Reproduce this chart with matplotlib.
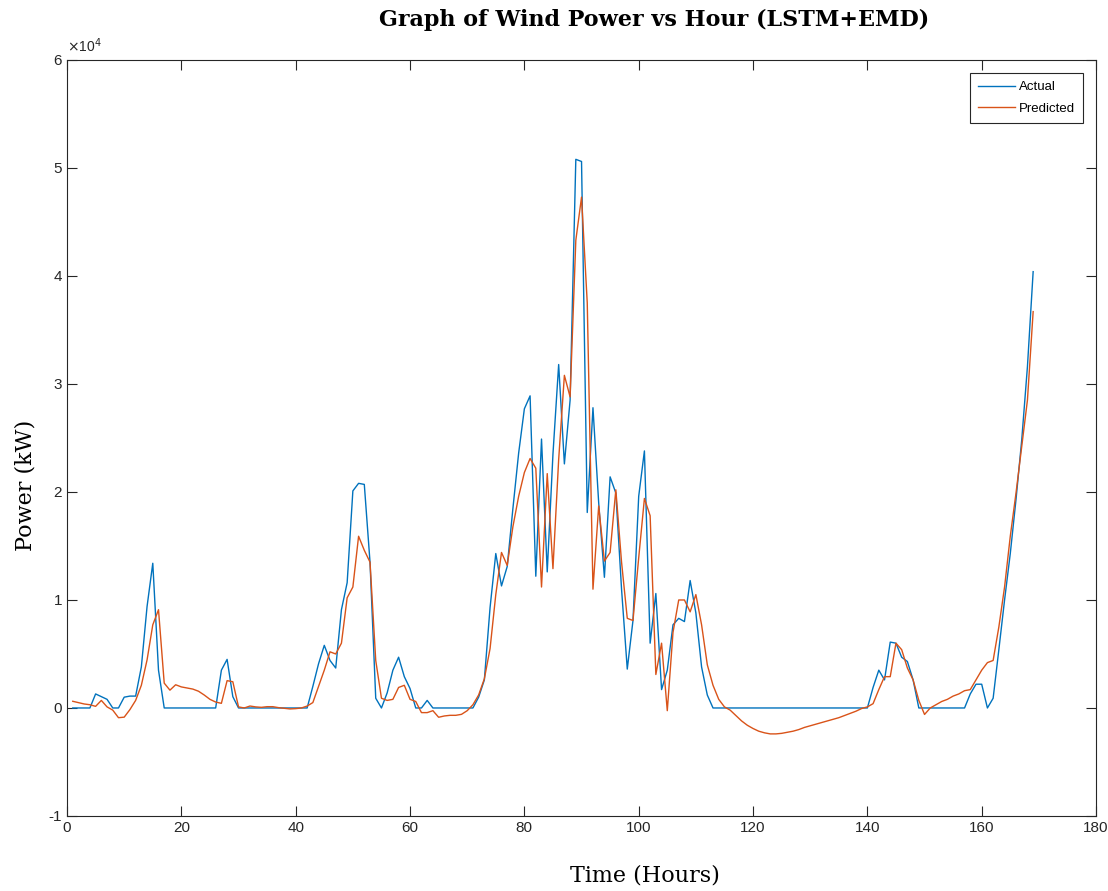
import numpy as np
import matplotlib
matplotlib.use("Agg")
import matplotlib.pyplot as plt
from matplotlib.ticker import FuncFormatter

plt.rcParams["axes.unicode_minus"] = False

#### DATEN ####
# Stunden 1..169
stunden = np.arange(1, 170)

# Gemessene Leistung (kW)
actual = [
    0, 0, 0, 0, 1300, 1050, 800, 0, 0, 1000,
    1100, 1100, 3800, 9400, 13400, 3500, 0, 0, 0, 0,
    0, 0, 0, 0, 0, 0, 3500, 4500, 1050, 0,
    0, 0, 0, 0, 0, 0, 0, 0, 0, 0,
    0, 0, 2000, 4100, 5800, 4400, 3700, 9100, 11600, 20100,
    20800, 20700, 13500, 900, 0, 1400, 3500, 4700, 2900, 1800,
    0, 0, 700, 0, 0, 0, 0, 0, 0, 0,
    0, 1000, 2600, 9300, 14300, 11300, 13100, 18500, 23600, 27700,
    28900, 12200, 24900, 12600, 23500, 31800, 22600, 28500, 50800, 50600,
    18100, 27800, 19000, 12100, 21400, 19900, 11000, 3600, 8100, 19600,
    23800, 6000, 10600, 1700, 3500, 7700, 8300, 8000, 11800, 8800,
    3800, 1200, 0, 0, 0, 0, 0, 0, 0, 0,
    0, 0, 0, 0, 0, 0, 0, 0, 0, 0,
    0, 0, 0, 0, 0, 0, 0, 0, 0, 0,
    1900, 3500, 2600, 6100, 6000, 4700, 4300, 2600, 0, 0,
    0, 0, 0, 0, 0, 0, 0, 1300, 2200, 2200,
    0, 900, 5400, 10000, 14300, 19300, 24800, 31600, 40400,
]

# Vorhersage LSTM+EMD (kW)
predicted = [
    620, 500, 370, 300, 150, 700, 100, -200, -900, -850,
    -150, 700, 2100, 4450, 7700, 9100, 2300, 1650, 2150, 1950,
    1850, 1750, 1550, 1200, 800, 550, 430, 2530, 2430, 100,
    0, 180, 100, 60, 120, 120, 30, -30, -90, -60,
    0, 180, 500, 2000, 3500, 5200, 5000, 6000, 10200, 11200,
    15900, 14600, 13500, 4400, 900, 700, 800, 1900, 2100, 800,
    600, -430, -430, -250, -860, -740, -680, -680, -590, -250,
    300, 1200, 2700, 5500, 10500, 14400, 13200, 16800, 19600, 21800,
    23100, 22200, 11200, 21700, 12900, 23000, 30800, 28800, 43300, 47300,
    37500, 11000, 18700, 13600, 14400, 20200, 13500, 8300, 8100, 13900,
    19400, 17800, 3100, 6000, -250, 7000, 10000, 10000, 8900, 10500,
    7700, 4000, 2100, 800, 100, -200, -700, -1200, -1600, -1900,
    -2150, -2300, -2400, -2400, -2350, -2250, -2150, -2000, -1800, -1650,
    -1500, -1350, -1200, -1050, -900, -700, -500, -300, -50, 100,
    400, 1700, 2900, 2900, 6000, 5400, 3700, 2600, 700, -600,
    0, 300, 600, 800, 1100, 1300, 1600, 1700, 2600, 3500,
    4200, 4400, 7500, 11200, 15900, 19900, 24200, 28500, 36700,
]

labels = ["Actual", "Predicted"]

#### PLOT ####
tick_font = ["Liberation Sans Narrow", "Liberation Sans", "DejaVu Sans"]

fig = plt.figure(figsize=(11.08, 8.91), dpi=100)
ax = fig.add_axes([0.0605, 0.0842, 0.9287, 0.8485])

ax.plot(stunden, actual, color="#0072BD", lw=1.0, label=labels[0])
ax.plot(stunden, predicted, color="#D95319", lw=1.0, label=labels[1])

ax.set_xlim(0, 180)
ax.set_ylim(-10000, 60000)
ax.set_xticks(np.arange(0, 181, 20))
ax.set_yticks(np.arange(-10000, 60001, 10000))

# Y-Achse in Einheiten von 10^4, Exponent steht wie bei MATLAB oben links
ax.yaxis.set_major_formatter(FuncFormatter(lambda v, p: "%d" % round(v / 10000)))
fig.text(67 / 1108, 1 - 46 / 891, r"$\times$10$^4$", family=tick_font,
         fontsize=10, color="#262626", ha="left", va="center")

ax.tick_params(direction="in", length=7, width=0.8, top=True, right=True,
               labelsize=11, colors="#262626")
for lab in ax.get_xticklabels() + ax.get_yticklabels():
    lab.set_family(tick_font)
for sp in ax.spines.values():
    sp.set_color("#262626")
    sp.set_linewidth(0.8)

# Titel und Achsenbeschriftungen sitzen im Original etwas rechts bzw. unterhalb der Mitte
fig.text(654 / 1108, 1 - 20 / 891, "Graph of Wind Power vs Hour (LSTM+EMD)",
         family="DejaVu Serif", fontweight="bold", fontsize=16,
         ha="center", va="center")
ax.set_xlabel("Time (Hours)", family="DejaVu Serif", fontsize=16)
ax.xaxis.set_label_coords((645 - 67) / 1029, -(876 - 816) / 756)
ax.set_ylabel("Power (kW)", family="DejaVu Serif", fontsize=16)
ax.yaxis.set_label_coords(-(67 - 25) / 1029, (816 - 485) / 756)
ax.xaxis.label.set_va("center")
ax.yaxis.label.set_va("center")

leg = ax.legend(loc="upper right", fancybox=False, edgecolor="#262626",
                framealpha=1, handlelength=2.8, handletextpad=0.3,
                labelspacing=0.7, borderpad=0.6, borderaxespad=1.0,
                prop={"family": tick_font, "size": 9.5})
leg.get_frame().set_linewidth(0.8)

fig.savefig("out.png", dpi=100, facecolor="white")
